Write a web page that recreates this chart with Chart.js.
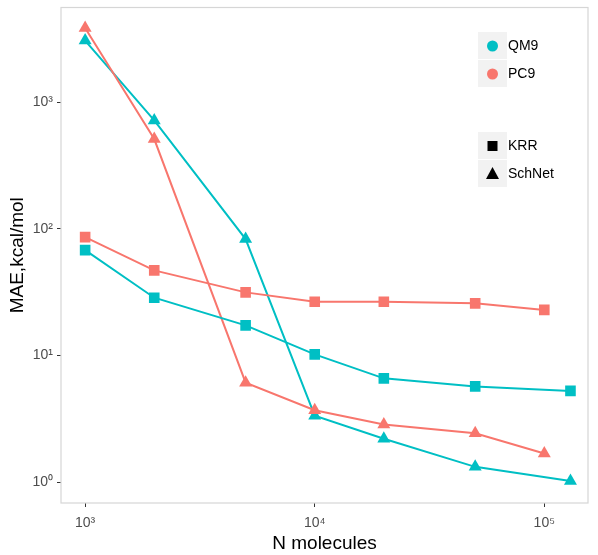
<!DOCTYPE html>
<html>
<head>
<meta charset="utf-8">
<script src="https://cdn.jsdelivr.net/npm/chart.js@4"></script>
<style>
  html, body { margin: 0; padding: 0; background: #fff; }
  #wrap { width: 598px; height: 555px; position: relative; }
</style>
</head>
<body>
<div id="wrap"><canvas id="c" width="598" height="555"></canvas></div>
<script>
// training set sizes
const nQM9 = [1000, 2000, 5000, 10000, 20000, 50000, 130000]
const nPC9 = [1000, 2000, 5000, 10000, 20000, 50000, 100000]

// MAE values (kcal/mol)
const qm9KRR = [68, 28.6, 17.3, 10.2, 6.6, 5.7, 5.25]
const pc9KRR = [86, 47, 31.5, 26.6, 26.6, 25.8, 22.9]
const qm9SchNet = [3070, 718, 83, 3.35, 2.2, 1.32, 1.02]
const pc9SchNet = [3860, 512, 6.1, 3.7, 2.85, 2.43, 1.68]

const xTicks = [1000, 10000, 100000]
const yTicks = [1, 10, 100, 1000]

const QM9_COLOR = "#00BFC4"
const PC9_COLOR = "#F8766D"
const FONT = "'Liberation Sans', Arial, sans-serif"

function pts(xs, ys) {
  return xs.map((x, i) => ({ x: x, y: ys[i] }))
}

const sup = { "0": "⁰", "1": "¹", "2": "²", "3": "³", "4": "⁴", "5": "⁵" }
function powLabel(v) {
  const e = Math.round(Math.log10(v))
  return "10" + String(e).split("").map(c => sup[c]).join("")
}

function makeSet(label, xs, ys, color, shape) {
  return {
    label: label,
    data: pts(xs, ys),
    showLine: true,
    borderColor: color,
    backgroundColor: color,
    borderWidth: 2,
    pointStyle: shape,
    pointRadius: 7.5,
    pointBorderWidth: 0,
    pointHoverRadius: 7.5
  }
}

// ggplot-style legend drawn on top of the panel
const legendPlugin = {
  id: "ggLegend",
  afterDraw(chart) {
    const ctx = chart.ctx
    const x0 = 478, w = 29, h = 28
    ctx.save()
    ctx.font = "14px " + FONT
    ctx.textBaseline = "middle"
    const items1 = [["QM9", QM9_COLOR], ["PC9", PC9_COLOR]]
    items1.forEach((it, i) => {
      const y = 32 + i * h
      ctx.fillStyle = "#f2f2f2"
      ctx.fillRect(x0, y, w, h - 1)
      ctx.fillStyle = it[1]
      ctx.beginPath()
      ctx.arc(x0 + w / 2, y + h / 2, 5.5, 0, Math.PI * 2)
      ctx.fill()
      ctx.fillStyle = "#000"
      ctx.fillText(it[0], x0 + w + 1, y + h / 2)
    })
    const items2 = ["KRR", "SchNet"]
    items2.forEach((lab, i) => {
      const y = 132 + i * h
      ctx.fillStyle = "#f2f2f2"
      ctx.fillRect(x0, y, w, h - 1)
      ctx.fillStyle = "#000"
      const cx = x0 + w / 2, cy = y + h / 2
      if (i === 0) {
        ctx.fillRect(cx - 5, cy - 5, 10, 10)
      } else {
        ctx.beginPath()
        ctx.moveTo(cx, cy - 7)
        ctx.lineTo(cx + 6.5, cy + 5)
        ctx.lineTo(cx - 6.5, cy + 5)
        ctx.closePath()
        ctx.fill()
      }
      ctx.fillText(lab, x0 + w + 1, cy)
    })
    ctx.restore()
  }
}

// panel border
const borderPlugin = {
  id: "panelBorder",
  beforeDatasetsDraw(chart) {
    const a = chart.chartArea
    const ctx = chart.ctx
    ctx.save()
    ctx.strokeStyle = "#d6d6d6"
    ctx.lineWidth = 1.2
    ctx.strokeRect(a.left, a.top, a.right - a.left, a.bottom - a.top)
    ctx.restore()
  }
}

new Chart(document.getElementById("c"), {
  type: "scatter",
  data: {
    datasets: [
      makeSet("QM9 KRR", nQM9, qm9KRR, QM9_COLOR, "rect"),
      makeSet("PC9 KRR", nPC9, pc9KRR, PC9_COLOR, "rect"),
      makeSet("PC9 SchNet", nPC9, pc9SchNet, PC9_COLOR, "triangle"),
      makeSet("QM9 SchNet", nQM9, qm9SchNet, QM9_COLOR, "triangle")
    ]
  },
  options: {
    responsive: false,
    animation: false,
    layout: { padding: { top: 1, right: 10, left: 0, bottom: 0 } },
    plugins: {
      legend: { display: false },
      tooltip: { enabled: false }
    },
    scales: {
      x: {
        type: "logarithmic",
        min: 785,
        max: 155000,
        afterBuildTicks: s => { s.ticks = xTicks.map(v => ({ value: v })) },
        afterFit: s => { s.height = 52; s.paddingLeft = 0; s.paddingRight = 0 },
        grid: { display: true, drawOnChartArea: false, color: "#333", tickLength: 4, tickWidth: 1 },
        border: { display: false },
        ticks: {
          callback: v => powLabel(v),
          color: "#4d4d4d",
          font: { size: 14, family: FONT },
          padding: 8,
          maxRotation: 0
        },
        title: {
          display: true,
          text: "N molecules",
          color: "#000",
          font: { size: 19, family: FONT },
          padding: { top: 0, bottom: 0 }
        }
      },
      y: {
        type: "logarithmic",
        min: 0.684,
        max: 5600,
        afterBuildTicks: s => { s.ticks = yTicks.map(v => ({ value: v })) },
        afterFit: s => { s.width = 61; s.paddingTop = 0; s.paddingBottom = 0 },
        grid: { display: true, drawOnChartArea: false, color: "#333", tickLength: 4, tickWidth: 1 },
        border: { display: false },
        ticks: {
          callback: v => powLabel(v),
          color: "#4d4d4d",
          font: { size: 14, family: FONT },
          padding: 4
        },
        title: {
          display: true,
          text: "MAE,kcal/mol",
          color: "#000",
          font: { size: 19, family: FONT },
          padding: { top: 6, bottom: 2 }
        }
      }
    }
  },
  plugins: [borderPlugin, legendPlugin]
})
</script>
</body>
</html>
